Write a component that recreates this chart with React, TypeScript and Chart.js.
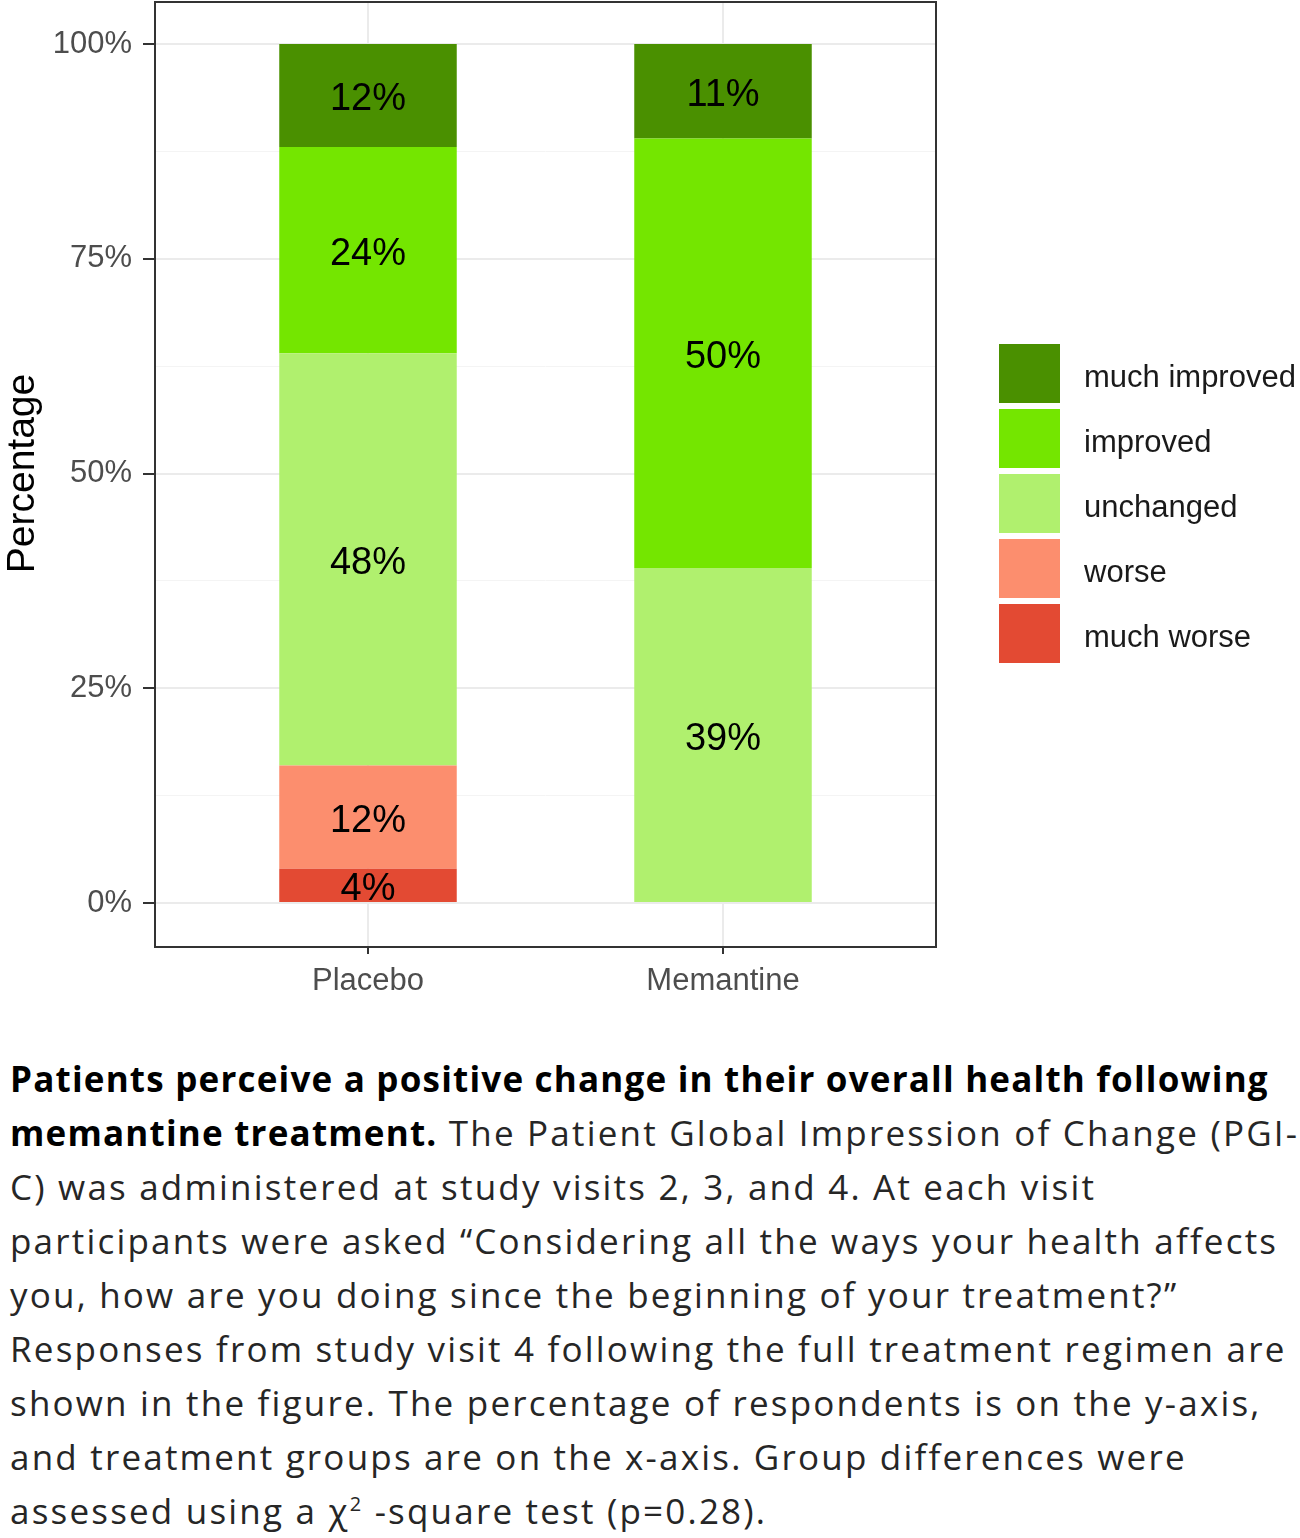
import { useEffect, useRef } from "react";
import { Chart, registerables } from "chart.js";

Chart.register(...registerables);

// treatment groups on the x axis
const groups = ["Placebo", "Memantine"];
const groupPos = [1, 2];

// PGI-C answer levels, bottom of the stack first
const responses = ["much worse", "worse", "unchanged", "improved", "much improved"];
const muchWorse = [4, 0];
const worse = [12, 0];
const unchanged = [48, 39];
const improved = [24, 50];
const muchImproved = [12, 11];
const series = [muchWorse, worse, unchanged, improved, muchImproved];
const responseColors = ["#e34a33", "#fc8e6e", "#b0f06e", "#74e600", "#4a9000"];

// y axis ticks (percent)
const majorTicks = [0, 25, 50, 75, 100];
const minorTicks = [12.5, 37.5, 62.5, 87.5];

const FONT = "'Liberation Sans', Arial, sans-serif";

const isMajor = (v: number) => majorTicks.includes(v);

const panelPlugin = {
  id: "panel",
  afterDatasetsDraw(chart: any) {
    const ctx = chart.ctx;
    // labels on each segment
    ctx.save();
    ctx.font = `38px ${FONT}`;
    ctx.fillStyle = "#000";
    ctx.textAlign = "center";
    ctx.textBaseline = "middle";
    chart.data.datasets.forEach((ds: any, i: number) => {
      const meta = chart.getDatasetMeta(i);
      meta.data.forEach((el: any, j: number) => {
        const v = ds.data[j].y;
        if (!v) return;
        ctx.fillText(`${v}%`, el.x, (el.y + el.base) / 2 + 4);
      });
    });
    ctx.restore();
  },
  afterDraw(chart: any) {
    const ctx = chart.ctx;
    const a = chart.chartArea;
    ctx.save();
    ctx.strokeStyle = "#333333";
    ctx.lineWidth = 2;
    ctx.strokeRect(a.left, a.top + 1, a.right - a.left, a.bottom - a.top);

    // legend, top item = top of the stack
    const boxW = 61;
    const boxH = 59;
    const gap = 6;
    const items = chart.data.datasets.map((d: any) => ({ label: d.label, color: d.backgroundColor })).reverse();
    const total = items.length * boxH + (items.length - 1) * gap;
    const x0 = a.right + 63;
    let y = (a.top + a.bottom) / 2 - total / 2 + 30;
    ctx.font = `31px ${FONT}`;
    ctx.textAlign = "left";
    ctx.textBaseline = "middle";
    items.forEach((it: any) => {
      ctx.fillStyle = it.color;
      ctx.fillRect(x0, y, boxW, boxH);
      ctx.fillStyle = "#1a1a1a";
      ctx.fillText(it.label, x0 + boxW + 24, y + boxH / 2 + 5);
      y += boxH + gap;
    });
    ctx.restore();
  },
};

function StackedChart() {
  const canvasRef = useRef<HTMLCanvasElement>(null);

  useEffect(() => {
    const ctx = canvasRef.current?.getContext("2d");
    if (!ctx) return;
    const chart = new Chart(ctx, {
      type: "bar",
      data: {
        datasets: responses.map((r, i) => ({
          label: r,
          data: groupPos.map((x, j) => ({ x, y: series[i][j] })),
          backgroundColor: responseColors[i],
          borderWidth: 0,
          categoryPercentage: 1,
          barPercentage: 0.5,
        })),
      },
      options: {
        animation: false,
        responsive: false,
        devicePixelRatio: 1,
        layout: { autoPadding: false, padding: { top: 1, right: 364, left: 0, bottom: 0 } },
        plugins: {
          legend: { display: false },
          tooltip: { enabled: false },
        },
        scales: {
          x: {
            type: "linear",
            stacked: true,
            offset: false,
            min: 0.4,
            max: 2.6,
            afterBuildTicks: (s: any) => {
              s.ticks = groupPos.map((v) => ({ value: v }));
            },
            afterFit: (s: any) => {
              s.height = 64;
              s.paddingLeft = 0;
              s.paddingRight = 0;
            },
            ticks: {
              callback: (v: any) => groups[groupPos.indexOf(Number(v))] ?? "",
              color: "#4d4d4d",
              font: { family: FONT, size: 31 },
              padding: 9,
              maxRotation: 0,
            },
            grid: {
              offset: false,
              color: "#ebebeb",
              lineWidth: 2,
              tickLength: 8,
              tickColor: "#333333",
              tickWidth: 2,
            },
            border: { display: false },
          },
          y: {
            stacked: true,
            min: -5,
            max: 105,
            afterBuildTicks: (s: any) => {
              s.ticks = [...majorTicks, ...minorTicks].sort((a, b) => a - b).map((v) => ({ value: v }));
            },
            afterFit: (s: any) => {
              s.width = 155;
              s.paddingTop = 0;
              s.paddingBottom = 0;
            },
            ticks: {
              callback: (v: any) => (isMajor(Number(v)) ? `${v}%` : ""),
              color: "#4d4d4d",
              font: { family: FONT, size: 31 },
              padding: 11,
            },
            grid: {
              color: (c: any) => (isMajor(c.tick?.value) ? "#ebebeb" : "#f4f4f4"),
              lineWidth: (c: any) => (isMajor(c.tick?.value) ? 2 : 1),
              tickLength: 12,
              tickColor: (c: any) => (isMajor(c.tick?.value) ? "#333333" : "rgba(0,0,0,0)"),
              tickWidth: 2,
            },
            border: { display: false },
            title: {
              display: true,
              text: "Percentage",
              color: "#000",
              font: { family: FONT, size: 39 },
              padding: { top: 0, bottom: 0 },
            },
          },
        },
      },
      plugins: [panelPlugin],
    });
    return () => chart.destroy();
  }, []);

  return <canvas ref={canvasRef} width={1300} height={1010} style={{ display: "block" }} />;
}

export default function App() {
  const line = { whiteSpace: "nowrap" as const, height: 54 };
  const bold = { color: "#000", letterSpacing: "1.2px" };
  return (
    <div style={{ position: "absolute", left: 0, top: 0, width: 1300, background: "#fff" }}>
      <StackedChart />
      <div
        style={{
          marginTop: 42,
          paddingLeft: 10,
          fontFamily: "'Open Sans', sans-serif",
          fontSize: 35,
          letterSpacing: "2.2px",
          lineHeight: "54px",
          color: "#262626",
        }}
      >
        <div style={line}>
          <b style={bold}>Patients perceive a positive change in their overall health following</b>
        </div>
        <div style={line}>
          <b style={bold}>memantine treatment.</b> The Patient Global Impression of Change (PGI-
        </div>
        <div style={line}>C) was administered at study visits 2, 3, and 4. At each visit</div>
        <div style={line}>participants were asked “Considering all the ways your health affects</div>
        <div style={line}>you, how are you doing since the beginning of your treatment?”</div>
        <div style={line}>Responses from study visit 4 following the full treatment regimen are</div>
        <div style={line}>shown in the figure. The percentage of respondents is on the y-axis,</div>
        <div style={line}>and treatment groups are on the x-axis. Group differences were</div>
        <div style={line}>
          assessed using a χ<sup style={{ fontSize: 20, lineHeight: 0 }}>2</sup> -square test (p=0.28).
        </div>
      </div>
    </div>
  );
}
